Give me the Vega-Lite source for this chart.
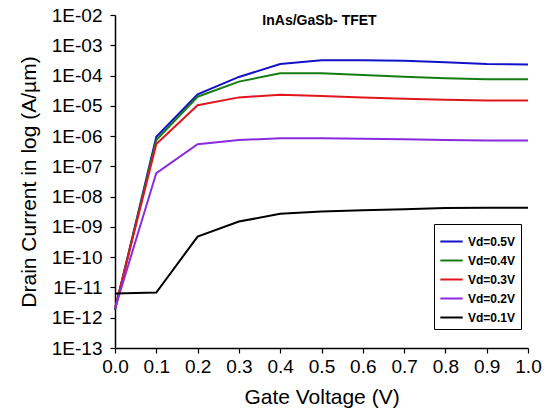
{
  "$schema": "https://vega.github.io/schema/vega-lite/v6.json",
  "autosize": "none",
  "width": 413,
  "height": 333,
  "padding": {"left": 115, "top": 15, "right": 22, "bottom": 66},
  "background": "white",
  "config": {
    "view": {"stroke": null},
    "font": "Liberation Sans",
    "axis": {
      "grid": false,
      "domainColor": "black",
      "domainWidth": 1.5,
      "tickColor": "black",
      "tickWidth": 1.2,
      "labelColor": "black",
      "titleColor": "black",
      "labelFont": "Liberation Sans",
      "titleFont": "Liberation Sans",
      "labelFontSize": 19,
      "titleFontSize": 21,
      "titleFontWeight": "normal"
    }
  },
  "title": {
    "text": "InAs/GaSb- TFET",
    "font": "Liberation Sans",
    "fontSize": 14,
    "fontWeight": "bold",
    "color": "black",
    "anchor": "middle",
    "offset": -22,
    "dx": -2
  },
  "data": {
    "values": [
      {"v": 0.0, "s": "0.5", "i": 1.8e-12},
      {"v": 0.1, "s": "0.5", "i": 9.5e-7},
      {"v": 0.2, "s": "0.5", "i": 2.4e-5},
      {"v": 0.3, "s": "0.5", "i": 9.0e-5},
      {"v": 0.4, "s": "0.5", "i": 2.4e-4},
      {"v": 0.5, "s": "0.5", "i": 3.2e-4},
      {"v": 0.6, "s": "0.5", "i": 3.2e-4},
      {"v": 0.7, "s": "0.5", "i": 3.1e-4},
      {"v": 0.8, "s": "0.5", "i": 2.75e-4},
      {"v": 0.9, "s": "0.5", "i": 2.4e-4},
      {"v": 1.0, "s": "0.5", "i": 2.3e-4},
      {"v": 0.0, "s": "0.4", "i": 1.9e-12},
      {"v": 0.1, "s": "0.4", "i": 7.4e-7},
      {"v": 0.2, "s": "0.4", "i": 2.0e-5},
      {"v": 0.3, "s": "0.4", "i": 6.3e-5},
      {"v": 0.4, "s": "0.4", "i": 1.18e-4},
      {"v": 0.5, "s": "0.4", "i": 1.18e-4},
      {"v": 0.6, "s": "0.4", "i": 1.04e-4},
      {"v": 0.7, "s": "0.4", "i": 9.1e-5},
      {"v": 0.8, "s": "0.4", "i": 8.1e-5},
      {"v": 0.9, "s": "0.4", "i": 7.6e-5},
      {"v": 1.0, "s": "0.4", "i": 7.6e-5},
      {"v": 0.0, "s": "0.3", "i": 2.0e-12},
      {"v": 0.1, "s": "0.3", "i": 5.5e-7},
      {"v": 0.2, "s": "0.3", "i": 1.05e-5},
      {"v": 0.3, "s": "0.3", "i": 1.9e-5},
      {"v": 0.4, "s": "0.3", "i": 2.3e-5},
      {"v": 0.5, "s": "0.3", "i": 2.1e-5},
      {"v": 0.6, "s": "0.3", "i": 1.9e-5},
      {"v": 0.7, "s": "0.3", "i": 1.7e-5},
      {"v": 0.8, "s": "0.3", "i": 1.58e-5},
      {"v": 0.9, "s": "0.3", "i": 1.49e-5},
      {"v": 1.0, "s": "0.3", "i": 1.49e-5},
      {"v": 0.0, "s": "0.2", "i": 2.0e-12},
      {"v": 0.1, "s": "0.2", "i": 6.0e-8},
      {"v": 0.2, "s": "0.2", "i": 5.4e-7},
      {"v": 0.3, "s": "0.2", "i": 7.4e-7},
      {"v": 0.4, "s": "0.2", "i": 8.5e-7},
      {"v": 0.5, "s": "0.2", "i": 8.5e-7},
      {"v": 0.6, "s": "0.2", "i": 8.1e-7},
      {"v": 0.7, "s": "0.2", "i": 7.9e-7},
      {"v": 0.8, "s": "0.2", "i": 7.4e-7},
      {"v": 0.9, "s": "0.2", "i": 7.2e-7},
      {"v": 1.0, "s": "0.2", "i": 7.2e-7},
      {"v": 0.0, "s": "0.1", "i": 6.3e-12},
      {"v": 0.1, "s": "0.1", "i": 6.8e-12},
      {"v": 0.2, "s": "0.1", "i": 4.8e-10},
      {"v": 0.3, "s": "0.1", "i": 1.5e-9},
      {"v": 0.4, "s": "0.1", "i": 2.7e-9},
      {"v": 0.5, "s": "0.1", "i": 3.2e-9},
      {"v": 0.6, "s": "0.1", "i": 3.55e-9},
      {"v": 0.7, "s": "0.1", "i": 3.85e-9},
      {"v": 0.8, "s": "0.1", "i": 4.2e-9},
      {"v": 0.9, "s": "0.1", "i": 4.3e-9},
      {"v": 1.0, "s": "0.1", "i": 4.3e-9}
    ]
  },
  "layer": [
    {
      "mark": {"type": "line", "strokeWidth": 2},
      "encoding": {
        "x": {
          "field": "v",
          "type": "quantitative",
          "scale": {"domain": [0, 1], "nice": false, "zero": false},
          "axis": {
            "title": "Gate Voltage (V)",
            "values": [0, 0.1, 0.2, 0.3, 0.4, 0.5, 0.6, 0.7, 0.8, 0.9, 1.0],
            "format": ".1f",
            "tickSize": 5,
            "labelPadding": 4,
            "titlePadding": 10,
            "labelFlush": false
          }
        },
        "y": {
          "field": "i",
          "type": "quantitative",
          "scale": {"type": "log", "domain": [1e-13, 1e-2], "nice": false},
          "axis": {
            "title": "Drain Current in log (A/µm)",
            "values": [1e-2, 1e-3, 1e-4, 1e-5, 1e-6, 1e-7, 1e-8, 1e-9, 1e-10, 1e-11, 1e-12, 1e-13],
            "labelExpr": "'1E-' + format(round(-log(datum.value)/LN10), '02d')",
            "tickSize": 5,
            "labelPadding": 8,
            "titlePadding": 12,
            "labelFlush": false
          }
        },
        "color": {
          "field": "s",
          "type": "nominal",
          "scale": {
            "domain": ["0.5", "0.4", "0.3", "0.2", "0.1"],
            "range": ["#1212c8", "#167d16", "#e0161c", "#8a2be2", "#000000"]
          },
          "legend": {
            "title": null,
            "orient": "none",
            "legendX": 319,
            "legendY": 209,
            "labelExpr": "'Vd=' + datum.label + 'V'",
            "symbolType": "stroke",
            "symbolStrokeWidth": 2,
            "symbolSize": 500,
            "labelFont": "Liberation Sans",
            "labelFontSize": 12,
            "labelFontWeight": "bold",
            "labelColor": "black",
            "labelOffset": 4,
            "rowPadding": -6,
            "strokeColor": "black",
            "fillColor": "white",
            "padding": 5
          }
        }
      }
    }
  ]
}
